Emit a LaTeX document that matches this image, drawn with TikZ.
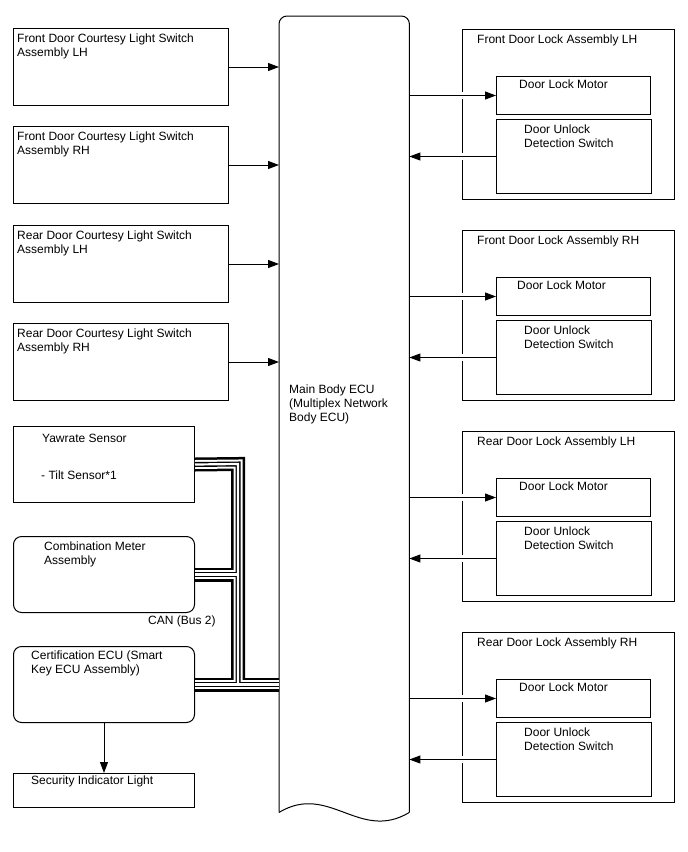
\documentclass[tikz,border=0pt]{standalone}
\usepackage{fontspec}
\setmainfont{Liberation Sans}
\usetikzlibrary{arrows.meta,calc}
\begin{document}
\begin{tikzpicture}[x=1pt,y=-1pt,
  box/.style={draw, line width=1pt, inner sep=0pt, anchor=north west},
  rbox/.style={box, rounded corners=8pt},
  lbl/.style={inner sep=0pt, anchor=base west, align=left, font=\fontsize{12}{14}\selectfont},
  arr/.style={line width=1pt, -{Triangle[length=11pt,width=8pt]}},
  ]
\useasboundingbox (0,0) rectangle (688,852);
\fill[white] (0,0) rectangle (688,852);

% ECU
\node[inner sep=0pt, minimum width=130pt, minimum height=796pt, anchor=north west] (ecu) at (279,16) {};
\draw[line width=1pt, rounded corners=8pt] (ecu.south west) -- (ecu.north west) -- (ecu.north east) -- (ecu.south east);
\draw[line width=1pt] (ecu.south east) .. controls ($(ecu.south east)+(-50,30)$) and ($(ecu.south west)+(50,-30)$) .. (ecu.south west);
% multi-line labels: base anchor = baseline of last line
\node[lbl] (ecut) at (289,421) {Main Body ECU\\(Multiplex Network\\Body ECU)};

% left switch boxes
\foreach \i/\T/\a/\b in {1/28/Front/LH, 2/126/Front/RH, 3/225/Rear/LH, 4/323/Rear/RH}{
  \node[box, minimum width=215pt, minimum height=77pt] (L\i) at (13,\T) {};
  \node[lbl] (Lt\i) at (17,\T+28) {\a{} Door Courtesy Light Switch\\Assembly \b};
  \draw[arr] (L\i.east) -- (L\i.east -| ecu.west);
}

% lower left
\node[box, minimum width=181pt, minimum height=76pt] (yaw) at (13,426) {};
\node[lbl] (yawt) at (42,442) {Yawrate Sensor};
\node[lbl] (tilt) at (41,479) {- Tilt Sensor*1};
\node[rbox, minimum width=181pt, minimum height=76pt] (comb) at (13,536) {};
\node[lbl] (combt) at (44,564) {Combination Meter\\Assembly};
\node[rbox, minimum width=181pt, minimum height=76pt] (cert) at (13,646) {};
\node[lbl] (certt) at (31,673) {Certification ECU (Smart\\Key ECU Assembly)};
\node[box, minimum width=181pt, minimum height=34pt] (sec) at (13,773) {};
\node[lbl] (sect) at (31,784) {Security Indicator Light};
\draw[arr] (cert.south) -- (sec.north);
\node[lbl] (can) at (148,624) {CAN (Bus 2)};

% CAN bus
\coordinate (bus) at (238,464);
\foreach \w/\c in {14/black,9/white,5/black,2.2/white}{
  \draw[line width=\w pt, \c] (yaw.east) -- (bus) -- (bus |- cert.east);
  \draw[line width=\w pt, \c] (comb.east) -- (comb.east -| bus);
  \draw[line width=\w pt, \c] (cert.east) -- (cert.east -| ecu.west);
}

% right door lock groups
\foreach \i/\T/\t/\mx in {1/29/Front Door Lock Assembly LH/519, 2/230/Front Door Lock Assembly RH/517, 3/431/Rear Door Lock Assembly LH/519, 4/632/Rear Door Lock Assembly RH/519}{
  \node[box, minimum width=212pt, minimum height=170pt] (g\i) at (462,\T) {};
  \node[lbl] (gt\i) at (477,\T+14) {\t};
  \node[box, minimum width=154pt, minimum height=38pt] (m\i) at (496,\T+47) {};
  \node[lbl] (mt\i) at (\mx,\T+59) {Door Lock Motor};
  \node[box, minimum width=155pt, minimum height=74pt] (u\i) at (496,\T+90) {};
  \node[lbl] (ut\i) at (524,\T+118) {Door Unlock\\Detection Switch};
  \fill[white] ($(g\i.west |- m\i.west)+(-1.5,-3.5)$) rectangle ($(g\i.west |- m\i.west)+(1.5,3.5)$);
  \fill[white] ($(g\i.west |- u\i.west)+(-1.5,-3.5)$) rectangle ($(g\i.west |- u\i.west)+(1.5,3.5)$);
  \draw[arr] (m\i.west -| ecu.east) -- (m\i.west);
  \draw[arr] (u\i.west) -- (u\i.west -| ecu.east);
}
\end{tikzpicture}
\end{document}
